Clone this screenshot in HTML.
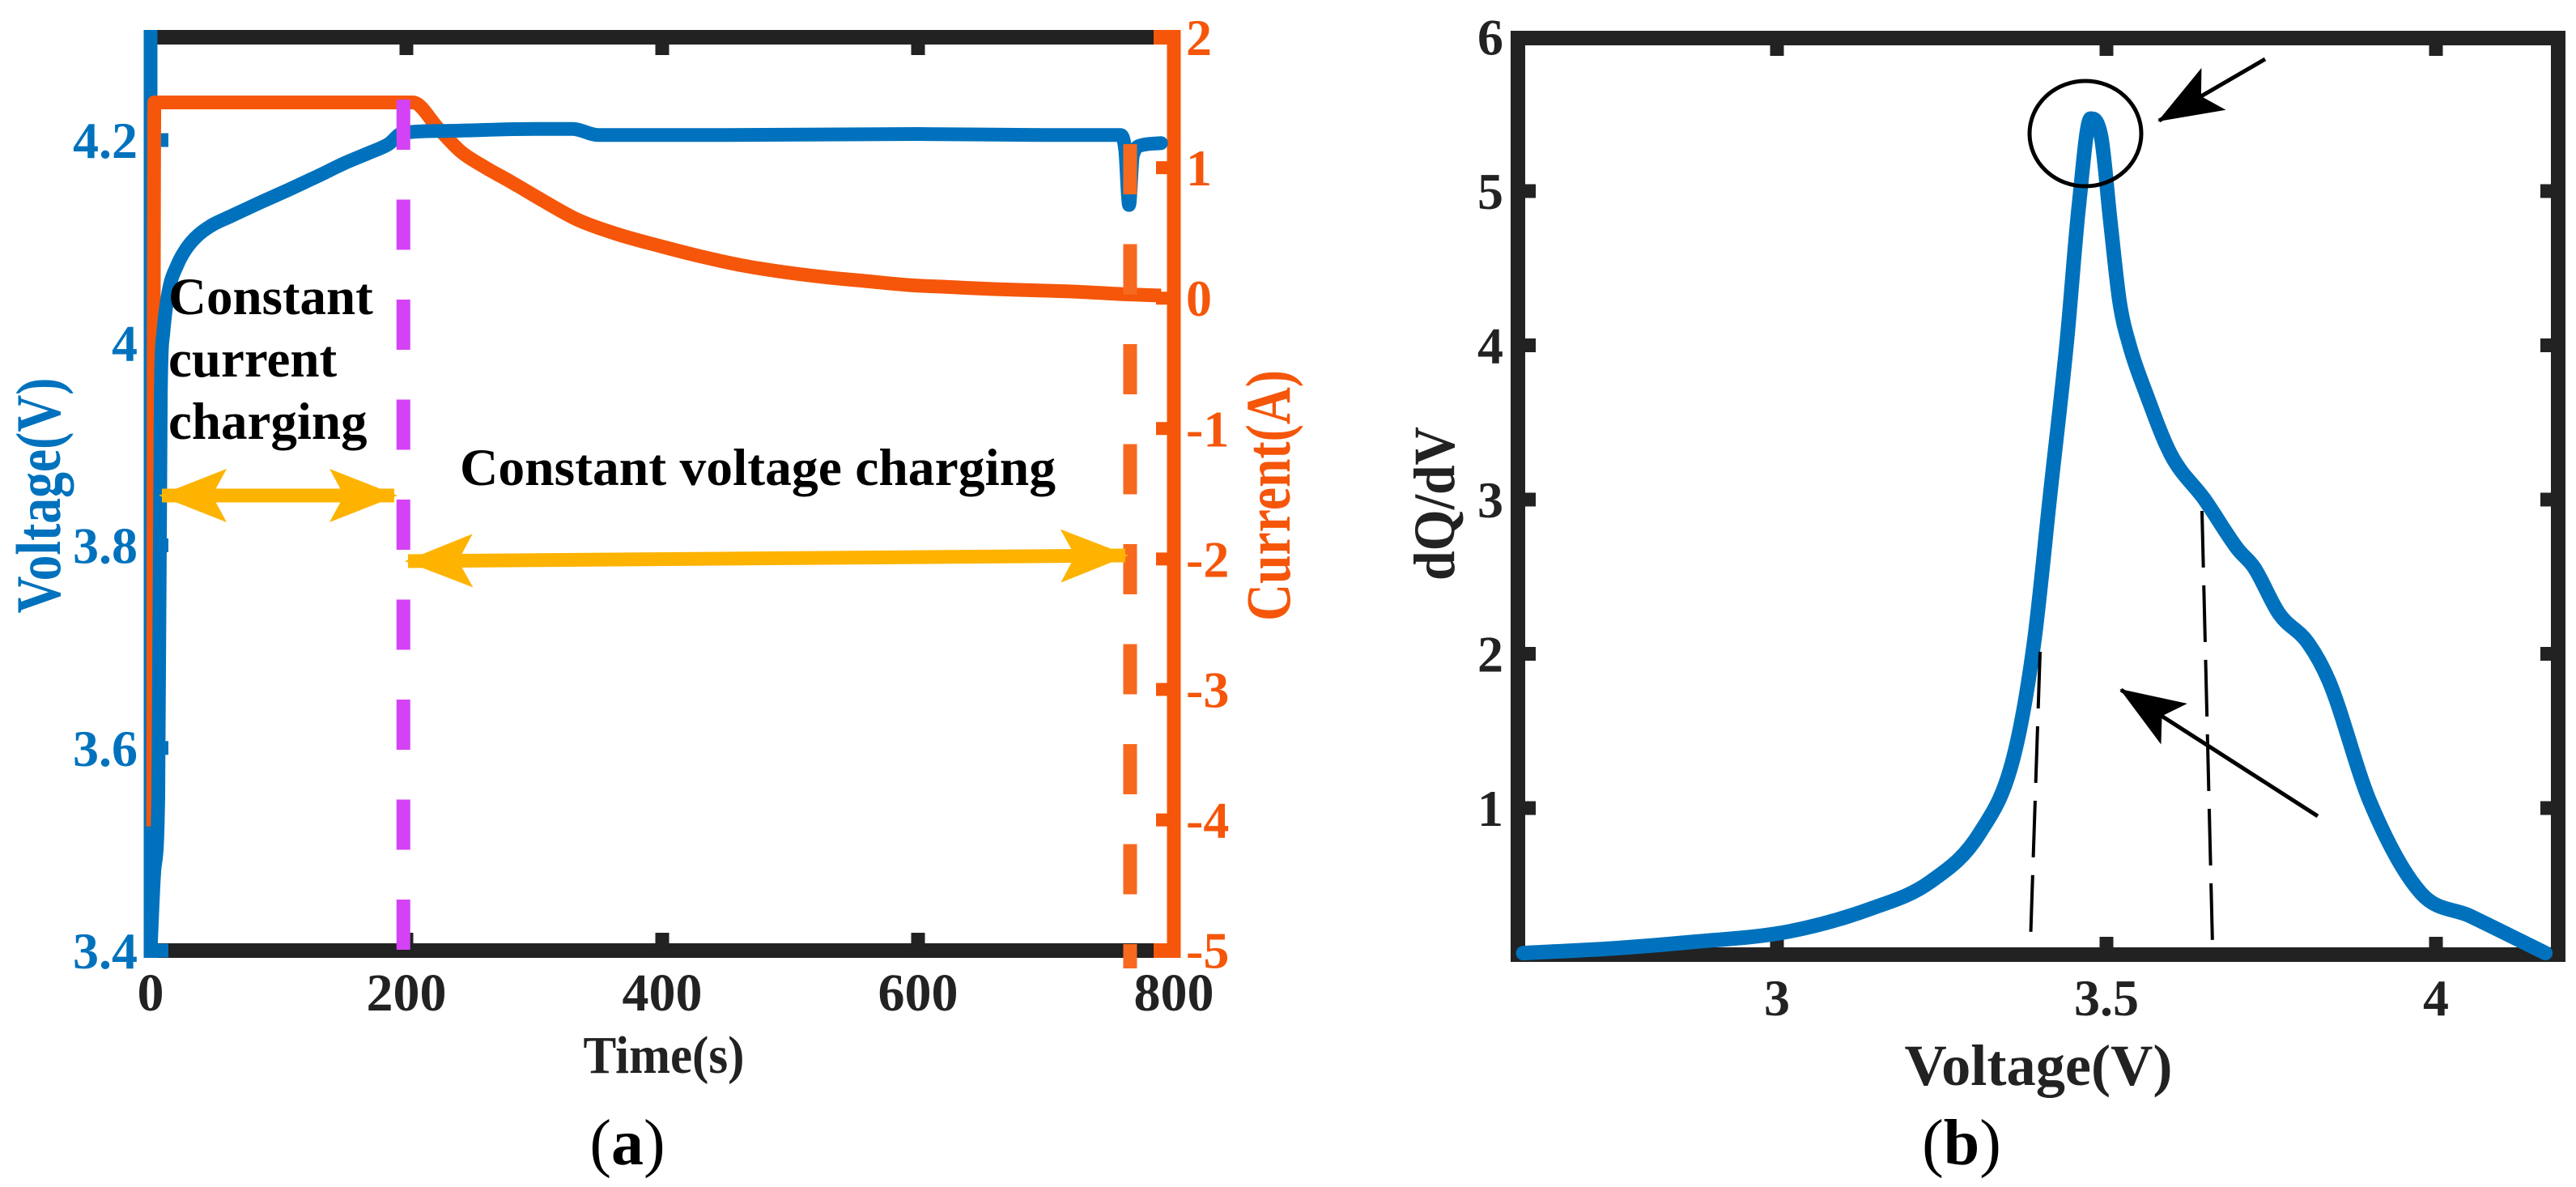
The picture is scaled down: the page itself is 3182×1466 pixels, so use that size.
<!DOCTYPE html>
<html><head><meta charset="utf-8">
<style>
html,body{margin:0;padding:0;background:#fff;}
svg{display:block;}
svg text{font-family:"Liberation Serif","Times New Roman",serif;font-weight:bold;}
</style></head>
<body>
<svg id="fig" width="3182" height="1466" viewBox="0 0 3182 1466" xmlns="http://www.w3.org/2000/svg" font-family="Liberation Serif, serif">
<defs>
<marker id="yhead" viewBox="0 0 84 66" refX="80" refY="33" markerWidth="84" markerHeight="66" markerUnits="userSpaceOnUse" orient="auto-start-reverse">
<path d="M0,0 L84,33 L0,66 L18,33 Z" fill="#FDB300"/></marker>
<marker id="khead" viewBox="0 0 80 60" refX="78" refY="30" markerWidth="80" markerHeight="60" markerUnits="userSpaceOnUse" orient="auto">
<path d="M0,0 L80,30 L0,60 L18,30 Z" fill="#000"/></marker>
</defs>
<g id="pa"></g>
<g id="pb"></g>
</svg>
<script>
// ---------- Panel (a) data ----------
const timeTicks = [0,200,400,600,800];
const voltTicks = [3.4,3.6,3.8,4.0,4.2];
const voltTickLabels = ["3.4","3.6","3.8","4","4.2"];
const currTicks = [2,1,0,-1,-2,-3,-4,-5];
const currTickLabels = ["2","1","0","-1","-2","-3","-4","-5"];
const vTime = [0,3,6,8,10,14,21,28,37,48,63,85,108,130,153,170,186,197,230,300,330,350,450,600,700,758,762,765,768,775,790];
const vVolt = [3.4,3.48,3.55,3.95,4.01,4.05,4.077,4.093,4.106,4.116,4.125,4.138,4.151,4.164,4.178,4.187,4.196,4.207,4.209,4.211,4.211,4.205,4.205,4.206,4.205,4.205,4.19,4.136,4.185,4.195,4.197];
const iTime = [2,2.5,3,197,205,225,243,262,282,308,334,365,398,430,463,495,528,560,593,625,657,690,722,761,790];
const iCurr = [-4.05,0,1.5,1.5,1.5,1.3,1.12,1.0,0.89,0.74,0.60,0.49,0.40,0.32,0.25,0.20,0.16,0.13,0.10,0.085,0.07,0.06,0.05,0.03,0.02];
const ccEnd = 197;
const cvEnd = 762;
// ---------- Panel (b) data ----------
const bVolt = [2.615,2.75,2.866,3.018,3.144,3.232,3.308,3.359,3.39,3.415,3.44,3.458,3.476,3.492,3.506,3.52,3.535,3.56,3.598,3.649,3.699,3.724,3.762,3.806,3.838,3.9,3.977,4.052,4.166];
const bDqdv = [0.06,0.09,0.13,0.2,0.35,0.52,0.84,1.33,2.07,3.05,4.03,4.9,5.47,5.35,4.8,4.28,4.0,3.69,3.29,3.0,2.68,2.56,2.26,2.07,1.82,1.04,0.45,0.3,0.06];
const bXTicks = [3,3.5,4];
const bXTickLabels = ["3","3.5","4"];
const bYTicks = [1,2,3,4,5,6];
const bYTickLabels = ["1","2","3","4","5","6"];

const NS="http://www.w3.org/2000/svg";
function mk(parent,tag,attrs,text){const e=document.createElementNS(NS,tag);for(const k in attrs)e.setAttribute(k,attrs[k]);if(text!==undefined)e.textContent=text;parent.appendChild(e);return e;}
// monotone cubic path through screen points (x increasing)
function monoPath(P){
  const n=P.length;if(n<2)return '';
  const dx=[],s=[];for(let i=0;i<n-1;i++){dx.push(P[i+1][0]-P[i][0]);s.push((P[i+1][1]-P[i][1])/dx[i]);}
  const m=[s[0]];for(let i=1;i<n-1;i++){m.push(s[i-1]*s[i]<=0?0:(s[i-1]+s[i])/2);}m.push(s[n-2]);
  for(let i=0;i<n-1;i++){if(s[i]===0){m[i]=0;m[i+1]=0;continue;}const a=m[i]/s[i],b=m[i+1]/s[i],h=a*a+b*b;if(h>9){const t=3/Math.sqrt(h);m[i]=t*a*s[i];m[i+1]=t*b*s[i];}}
  let d='M'+P[0][0]+','+P[0][1];
  for(let i=0;i<n-1;i++){const h=dx[i]/3;d+=' C'+(P[i][0]+h)+','+(P[i][1]+m[i]*h)+' '+(P[i+1][0]-h)+','+(P[i+1][1]-m[i+1]*h)+' '+P[i+1][0]+','+P[i+1][1];}
  return d;
}
const BLUE="#0072BD",ORANGE="#F5560A",DARK="#222222";

const ax=t=>186+t*1.58;
const ayV=v=>173+(4.2-v)*1251.25;
const ayI=i=>46+(2-i)*161.1;
const pa=document.getElementById('pa');
let e;
e=mk(pa,'line',{x1:186,y1:46,x2:1430,y2:46,stroke:DARK,'stroke-width':18});


e=mk(pa,'line',{x1:186,y1:1174,x2:1430,y2:1174,stroke:DARK,'stroke-width':18});


timeTicks.forEach((t,i)=>{
  if(i>0&&i<4){mk(pa,'line',{x1:ax(t),y1:46,x2:ax(t),y2:68,stroke:DARK,'stroke-width':17});
  mk(pa,'line',{x1:ax(t),y1:1174,x2:ax(t),y2:1152,stroke:DARK,'stroke-width':17});}
  e=mk(pa,'text',{x:ax(t),y:1248,'font-size':66,'text-anchor':'middle',fill:DARK},String(t));
  
  
});
e=mk(pa,'line',{x1:186,y1:37,x2:186,y2:1183,stroke:BLUE,'stroke-width':17});


voltTicks.forEach((v,i)=>{
  mk(pa,'line',{x1:186,y1:ayV(v),x2:208,y2:ayV(v),stroke:BLUE,'stroke-width':17});
  e=mk(pa,'text',{x:170,y:ayV(v)+22,'font-size':64,'text-anchor':'end',fill:BLUE},voltTickLabels[i]);
  
  
});
e=mk(pa,'line',{x1:1450,y1:37,x2:1450,y2:1183,stroke:ORANGE,'stroke-width':17});


mk(pa,'line',{x1:1425,y1:46,x2:1450,y2:46,stroke:ORANGE,'stroke-width':18});
mk(pa,'line',{x1:1425,y1:1174,x2:1450,y2:1174,stroke:ORANGE,'stroke-width':18});
currTicks.forEach((c,i)=>{
  mk(pa,'line',{x1:1428,y1:ayI(c),x2:1450,y2:ayI(c),stroke:ORANGE,'stroke-width':16});
  e=mk(pa,'text',{x:1465,y:ayI(c)+22,'font-size':64,fill:ORANGE},currTickLabels[i]);
  
  
});
e=mk(pa,'path',{d:monoPath(iTime.map((t,i)=>[ax(t),ayI(iCurr[i])])),fill:'none',stroke:ORANGE,'stroke-width':17,'stroke-linejoin':'round'});


e=mk(pa,'path',{d:monoPath(vTime.map((t,i)=>[ax(t),ayV(vVolt[i])])),fill:'none',stroke:BLUE,'stroke-width':17,'stroke-linejoin':'round','stroke-linecap':'round'});


e=mk(pa,'line',{x1:ax(ccEnd)+1,y1:123,x2:ax(ccEnd)+1,y2:1174,stroke:'#D442F5','stroke-width':17,'stroke-dasharray':'62 61.5'});


e=mk(pa,'line',{x1:ax(cvEnd)+6,y1:178,x2:ax(cvEnd)+6,y2:1196,stroke:'#F7691E','stroke-width':17,'stroke-dasharray':'62 61.5'});


e=mk(pa,'line',{x1:200,y1:612,x2:487,y2:612,stroke:'#FDB300','stroke-width':17,'marker-start':'url(#yhead)','marker-end':'url(#yhead)'});


e=mk(pa,'line',{x1:504,y1:693,x2:1390,y2:686,stroke:'#FDB300','stroke-width':17,'marker-start':'url(#yhead)','marker-end':'url(#yhead)'});


[["Constant",388],["current",465],["charging",542]].forEach(([s,y])=>{
  e=mk(pa,'text',{x:208,y:y,'font-size':65,fill:'#000'},s);
  
  
});
e=mk(pa,'text',{x:568,y:599,'font-size':65,fill:'#000',textLength:736,lengthAdjust:'spacingAndGlyphs'},"Constant voltage charging");


e=mk(pa,'text',{x:820,y:1325,'font-size':66,'text-anchor':'middle',fill:DARK,textLength:199,lengthAdjust:'spacingAndGlyphs'},"Time(s)");


e=mk(pa,'text',{x:0,y:0,'font-size':78,'text-anchor':'middle',fill:BLUE,textLength:291,lengthAdjust:'spacingAndGlyphs',transform:'translate(74,612) rotate(-90)'},"Voltage(V)");


e=mk(pa,'text',{x:0,y:0,'font-size':78,'text-anchor':'middle',fill:ORANGE,textLength:310,lengthAdjust:'spacingAndGlyphs',transform:'translate(1593,612) rotate(-90)'},"Current(A)");


e=mk(pa,'text',{x:775,y:1438,'font-size':80,'text-anchor':'middle',fill:'#000'});


mk(e,'tspan',{'font-weight':'normal'},"(");mk(e,'tspan',{},"a");mk(e,'tspan',{'font-weight':'normal'},")");

// ---------- Panel (b) ----------
const bx=v=>2602+(v-3.5)*814;
const by=d=>1188.5-d*190.5;
const pb=document.getElementById('pb');
e=mk(pb,'rect',{x:1875,y:47,width:1285,height:1132,fill:'none',stroke:DARK,'stroke-width':18});


bXTicks.forEach((v,i)=>{
  mk(pb,'line',{x1:bx(v),y1:47,x2:bx(v),y2:69,stroke:DARK,'stroke-width':17});
  mk(pb,'line',{x1:bx(v),y1:1179,x2:bx(v),y2:1157,stroke:DARK,'stroke-width':17});
  e=mk(pb,'text',{x:bx(v),y:1254,'font-size':64,'text-anchor':'middle',fill:DARK},bXTickLabels[i]);
  
  
});
bYTicks.forEach((d,i)=>{
  if(d<6){mk(pb,'line',{x1:1875,y1:by(d),x2:1897,y2:by(d),stroke:DARK,'stroke-width':17});
  mk(pb,'line',{x1:3160,y1:by(d),x2:3138,y2:by(d),stroke:DARK,'stroke-width':17});}
  e=mk(pb,'text',{x:1857,y:by(d)+22,'font-size':64,'text-anchor':'end',fill:DARK},bYTickLabels[i]);
  
  
});
e=mk(pb,'path',{d:monoPath(bVolt.map((v,i)=>[bx(v),by(bDqdv[i])])),fill:'none',stroke:BLUE,'stroke-width':18,'stroke-linejoin':'round','stroke-linecap':'round'});


e=mk(pb,'line',{x1:2520,y1:805,x2:2508,y2:1167,stroke:'#000','stroke-width':4,'stroke-dasharray':'70 22'});


e=mk(pb,'line',{x1:2720,y1:631,x2:2733,y2:1167,stroke:'#000','stroke-width':4,'stroke-dasharray':'70 22'});


e=mk(pb,'ellipse',{cx:2576,cy:165,rx:69,ry:65,fill:'none',stroke:'#000','stroke-width':5});


e=mk(pb,'line',{x1:2798,y1:73,x2:2667,y2:149,stroke:'#000','stroke-width':5,'marker-end':'url(#khead)'});


e=mk(pb,'line',{x1:2863,y1:1008,x2:2620,y2:852,stroke:'#000','stroke-width':5,'marker-end':'url(#khead)'});


e=mk(pb,'text',{x:2518,y:1340,'font-size':72,'text-anchor':'middle',fill:DARK,textLength:331,lengthAdjust:'spacingAndGlyphs'},"Voltage(V)");


e=mk(pb,'text',{x:0,y:0,'font-size':72,'text-anchor':'middle',fill:DARK,textLength:190,lengthAdjust:'spacingAndGlyphs',transform:'translate(1796,622) rotate(-90)'},"dQ/dV");


e=mk(pb,'text',{x:2423,y:1438,'font-size':80,'text-anchor':'middle',fill:'#000'});


mk(e,'tspan',{'font-weight':'normal'},"(");mk(e,'tspan',{},"b");mk(e,'tspan',{'font-weight':'normal'},")");
</script>
</body></html>
